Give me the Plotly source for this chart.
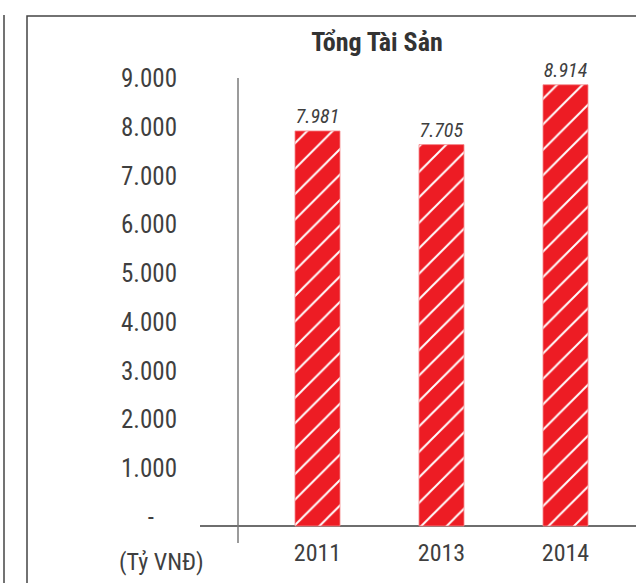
import plotly.graph_objects as go

# ---- data ----
years = ["2011", "2013", "2014"]
total_assets = [7981, 7705, 8914]
ytick_vals = [0, 1000, 2000, 3000, 4000, 5000, 6000, 7000, 8000, 9000]
ytick_text = ["-\u00a0\u00a0\u00a0\u00a0", "1.000", "2.000", "3.000", "4.000", "5.000",
              "6.000", "7.000", "8.000", "9.000"]
title_text = "Tổng Tài Sản"
unit_text = "(Tỷ VNĐ)"

# ---- styling ----
RED = "#ED1C24"
TXT = "#3f3f3f"
FONT = "Liberation Sans Narrow, Roboto Condensed, DejaVu Sans Condensed, Arial Narrow, sans-serif"

W, H = 636, 583
ML, MR, MT, MB = 200, 0, 60, 47
PW, PH = W - ML - MR, H - MT - MB
PLOT_BOTTOM = H - MB


def px_x(p):
    return (p - ML) / PW


def px_y(p):
    return (PLOT_BOTTOM - p) / PH


fig = go.Figure()

fig.add_trace(go.Bar(
    x=years, y=total_assets,
    marker=dict(color=RED,
                line=dict(color="#F58A8E", width=0.8),
                pattern=dict(shape="/", fgcolor="white", fgopacity=1,
                             size=18, solidity=0.11, fillmode="overlay")),
    texttemplate="%{y:,.0f}",
    textposition="outside",
    textfont=dict(family=FONT, size=20, color=TXT, style="italic"),
    cliponaxis=False,
    hoverinfo="skip",
    width=0.363,
))

# invisible companion trace carrying the labelled value axis
fig.add_trace(go.Scatter(
    x=years, y=total_assets, yaxis="y2", mode="markers",
    marker=dict(opacity=0), hoverinfo="skip", showlegend=False,
))

# bar value scale (0 at pixel 526, 0.0495 px per unit)
s1 = 0.0495
y1min = -(PLOT_BOTTOM - 526) / s1
y1max = y1min + PH / s1
# label scale (0 at pixel 517, 0.04875 px per unit)
s2 = 0.04875
y2min = -(PLOT_BOTTOM - 517) / s2
y2max = y2min + PH / s2

step = 124.0
x0 = -(317.5 - ML) / step
x1 = x0 + PW / step

fig.update_layout(
    width=W, height=H, autosize=False,
    margin=dict(l=ML, r=MR, t=MT, b=MB, pad=0),
    paper_bgcolor="white", plot_bgcolor="white",
    separators=",.",
    showlegend=False,
    title=dict(text=f"<b>{title_text}</b>", x=377 / W, xanchor="center",
               y=1 - 42 / H, yanchor="middle",
               font=dict(family=FONT, size=26, color="#333333")),
    xaxis=dict(type="category", range=[x0, x1], showgrid=False, zeroline=False,
               showline=False, ticks="", ticklabelstandoff=0,
               tickfont=dict(family=FONT, size=24, color=TXT)),
    yaxis=dict(range=[y1min, y1max], showgrid=False, showticklabels=False,
               zeroline=True, zerolinecolor="#6e6e6e", zerolinewidth=1.5,
               showline=False, ticks=""),
    yaxis2=dict(overlaying="y", side="left", range=[y2min, y2max],
                tickvals=ytick_vals, ticktext=ytick_text,
                showgrid=False, zeroline=False, showline=False, ticks="",
                ticklabelstandoff=22,
                tickfont=dict(family=FONT, size=25, color=TXT)),
    bargap=0.637,
)

# vertical value-axis line
fig.add_shape(type="line", xref="paper", yref="paper",
              x0=px_x(238), x1=px_x(238), y0=px_y(543), y1=px_y(78),
              line=dict(color="#7a7a7a", width=1.5))
# frame lines
fig.add_shape(type="line", xref="paper", yref="paper",
              x0=px_x(4), x1=px_x(4), y0=px_y(15), y1=px_y(H + 2),
              line=dict(color="#444444", width=1.5))
fig.add_shape(type="path", xref="paper", yref="paper",
              path=f"M {px_x(27)},{px_y(H + 2)} L {px_x(27)},{px_y(16)} L {px_x(W + 5)},{px_y(16)}",
              line=dict(color="#444444", width=1.5))

fig.add_annotation(text=unit_text, xref="paper", yref="paper",
                   x=px_x(161), y=px_y(562), xanchor="center", yanchor="middle",
                   showarrow=False, font=dict(family=FONT, size=24, color=TXT))

fig.write_html("out.html", config={"displayModeBar": False},
               post_script="document.body.style.margin='0';document.body.style.overflow='hidden';")
